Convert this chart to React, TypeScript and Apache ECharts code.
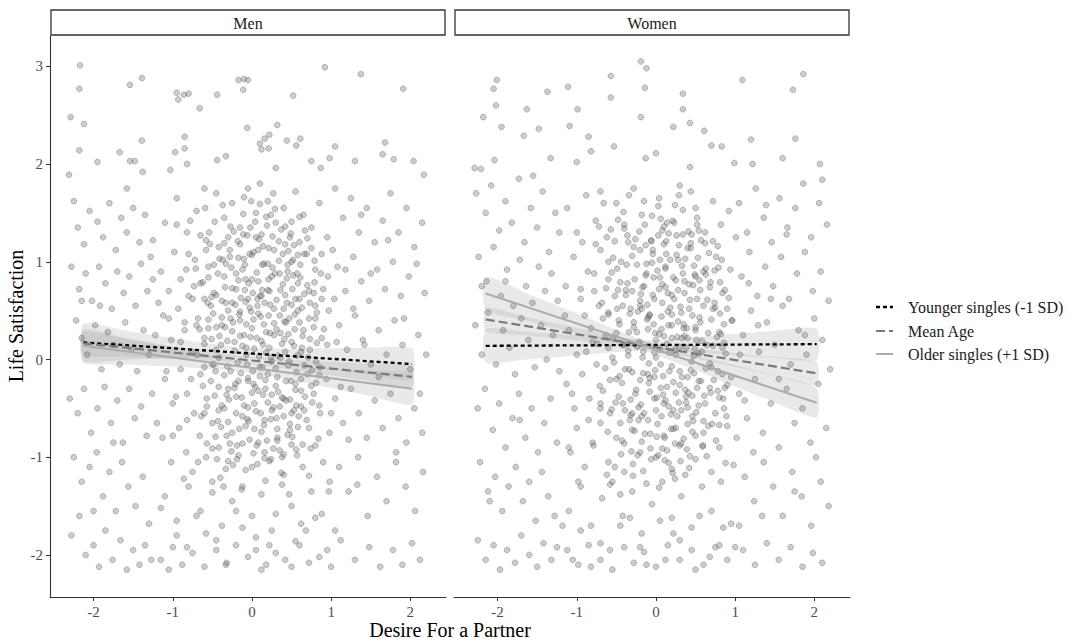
import React, { useEffect, useRef } from "react";
import * as echarts from "echarts";

const FONT = '"Liberation Serif", "Times New Roman", serif';

const panelTitles = ["Men", "Women"];
const groupNames = ["Younger singles (-1 SD)", "Mean Age", "Older singles (+1 SD)"];
const xTickValues = [-2, -1, 0, 1, 2];
const yTickValues = [-2, -1, 0, 1, 2, 3];
const xTitle = "Desire For a Partner";
const yTitle = "Life Satisfaction";

// regression lines: [x0, y0, x1, y1] for Younger, Mean, Older
const menLines = [
  [-2.13, 0.175, 2.02, -0.047],
  [-2.13, 0.165, 2.02, -0.177],
  [-2.13, 0.14, 2.02, -0.3],
];
const womenLines = [
  [-2.15, 0.14, 2.03, 0.157],
  [-2.15, 0.41, 2.03, -0.142],
  [-2.15, 0.676, 2.03, -0.443],
];
// confidence band half widths at fractions along each line
const bandFrac = [0, 0.125, 0.25, 0.375, 0.5, 0.625, 0.75, 0.875, 1];
const menBandHalf = [
  [0.19, 0.15, 0.11, 0.075, 0.05, 0.075, 0.105, 0.14, 0.16],
  [0.12, 0.095, 0.07, 0.05, 0.035, 0.05, 0.07, 0.09, 0.11],
  [0.17, 0.135, 0.1, 0.07, 0.05, 0.07, 0.1, 0.13, 0.16],
];
const womenBandHalf = [
  [0.17, 0.14, 0.11, 0.075, 0.05, 0.075, 0.11, 0.14, 0.16],
  [0.12, 0.095, 0.07, 0.05, 0.035, 0.05, 0.07, 0.095, 0.12],
  [0.17, 0.14, 0.11, 0.075, 0.05, 0.075, 0.11, 0.14, 0.15],
];

const menPoints = [
  [-2.17,3.01],[0.92,2.99],[1.375,2.92],[-1.39,2.88],[1.91,2.77],[-2.18,2.77],[-1.54,2.81],[-0.17,2.86],[-0.1,2.87],[-0.05,2.86],
  [-0.11,2.76],[-0.93,2.66],[-0.8,2.72],[-0.86,2.71],[-0.95,2.73],[-0.44,2.71],[-0.66,2.57],[0.52,2.7],[-2.29,2.48],[-2.12,2.41],
  [-0.06,2.37],[0.32,2.4],[-1.39,2.24],[-0.85,2.28],[-0.85,2.16],[0.1,2.21],[0.16,2.26],[0.22,2.3],[0.12,2.15],[0.21,2.16],
  [0.44,2.24],[0.56,2.19],[0.61,2.26],[1.05,2.18],[0.98,2.06],[1.68,2.22],[1.65,2.1],[2.04,2.03],[1.3,2.03],[0.75,2.03],
  [0.87,1.96],[0.3,1.96],[-2.18,2.14],[-1.67,2.12],[-1.54,2.03],[-1.48,2.03],[-1.95,2.02],[-2.31,1.89],[-1.03,1.94],[-1.38,1.92],
  [-0.82,2.0],[-0.97,2.12],[-0.44,2.04],[-0.33,2.08],[2.17,1.89],[1.79,2.05],
  [-2.25,1.62],[-2.2,1.35],[-2.12,1.18],[-2.05,1.52],[-1.95,1.41],[-1.88,1.25],[-1.8,1.6],[-1.72,1.12],[-1.65,1.45],[-1.58,1.3],
  [-1.5,1.55],[-1.42,1.2],[-1.35,1.48],[-1.28,1.05],[-2.28,0.95],[-2.18,0.72],[-2.1,0.88],[-2.02,0.6],[-1.93,0.95],[-1.85,0.78],
  [-1.77,0.52],[-1.7,0.9],[-1.62,0.68],[-1.55,0.85],[-1.47,0.55],[-1.4,0.98],[-1.32,0.7],[-1.25,0.82],[-2.22,0.4],[-2.15,0.22],
  [-2.08,0.05],[-1.98,0.35],[-1.9,-0.1],[-1.82,0.28],[-1.75,0.15],[-1.67,-0.05],[-1.6,0.38],[-1.52,0.1],[-1.45,-0.12],[-1.37,0.3],
  [-1.3,0.05],[-1.22,0.25],[-2.3,-0.4],[-2.2,-0.55],[-2.12,-0.3],[-2.03,-0.75],[-1.95,-0.5],[-1.86,-0.28],[-1.78,-0.65],[-1.7,-0.42],
  [-1.63,-0.85],[-1.55,-0.3],[-1.48,-0.6],[-1.4,-0.48],[-1.33,-0.78],[-1.26,-0.35],[-2.25,-1.0],[-2.15,-1.25],[-2.05,-1.1],[-1.96,-0.95],
  [-1.88,-1.4],[-1.8,-1.15],[-1.72,-1.55],[-1.64,-1.05],[-1.56,-1.3],[-1.47,-1.5],[-1.38,-1.2],[-1.3,-1.68],[-2.28,-1.8],[-2.18,-1.6],
  [-2.1,-2.0],[-2.0,-1.9],[-1.93,-2.12],[-1.85,-1.75],[-1.76,-2.05],[-1.66,-1.85],[-1.58,-2.15],[-1.5,-1.95],[-1.42,-2.1],[-1.35,-1.9],
  [-1.27,-2.05],
  [-1.1,1.4],[-0.95,1.65],[-0.82,1.3],[-0.7,1.52],[-0.58,1.22],[-0.45,1.7],[-0.35,1.45],[-0.25,1.6],[-0.15,1.35],[-0.05,1.75],
  [0.05,1.5],[0.12,1.28],[0.2,1.62],[0.3,1.4],[0.4,1.55],[0.48,1.25],[0.55,1.72],[0.65,1.48],[0.75,1.35],[0.85,1.6],
  [0.95,1.25],[-0.3,1.25],[0.1,1.8],[-0.6,1.75],[0.6,1.2],
  [-1.15,0.9],[-1.05,0.7],[-0.98,1.1],[-0.9,0.82],[-0.8,0.65],[-0.72,1.02],[-0.65,0.78],[-0.55,0.95],[-0.48,0.68],[-0.42,1.15],
  [-0.35,0.85],[-0.28,1.05],[-0.2,0.72],[-0.12,0.92],[-0.05,0.62],[0.02,1.1],[0.08,0.8],[0.15,0.98],[0.22,0.7],[0.28,1.12],
  [0.35,0.88],[0.42,0.66],[0.5,1.0],[0.58,0.78],[0.66,1.08],[0.72,0.7],[0.8,0.92],[0.88,0.62],[0.96,0.85],[-0.6,0.62],
  [-0.15,1.18],[0.12,0.65],[0.45,0.9],[-0.38,0.6],[0.25,0.85],[-0.08,0.82],[0.6,0.62],
  [-1.12,0.45],[-1.02,0.2],[-0.93,0.52],[-0.85,0.3],[-0.76,0.08],[-0.68,0.42],[-0.6,0.22],[-0.52,0.55],[-0.45,0.1],[-0.38,0.35],
  [-0.3,0.5],[-0.22,0.18],[-0.15,0.4],[-0.07,0.05],[0.0,0.32],[0.07,0.55],[0.14,0.15],[0.21,0.45],[0.28,0.25],[0.36,0.02],
  [0.43,0.38],[0.5,0.18],[0.58,0.5],[0.65,0.3],[0.73,0.1],[0.8,0.42],[0.88,0.22],[0.97,0.5],[-0.25,0.58],[0.18,0.28],
  [-0.55,0.32],[0.4,0.52],[-0.1,0.25],[0.62,0.08],
  [-1.1,-0.2],[-1.0,-0.45],[-0.9,-0.1],[-0.82,-0.35],[-0.73,-0.55],[-0.65,-0.15],[-0.57,-0.4],[-0.5,-0.05],[-0.42,-0.28],[-0.35,-0.5],
  [-0.27,-0.12],[-0.2,-0.38],[-0.12,-0.58],[-0.05,-0.22],[0.03,-0.45],[0.1,-0.08],[0.17,-0.3],[0.25,-0.52],[0.32,-0.18],[0.4,-0.4],
  [0.47,-0.02],[0.55,-0.25],[0.62,-0.48],[0.7,-0.15],[0.78,-0.35],[0.86,-0.55],[0.94,-0.2],[-0.3,-0.3],[0.2,-0.15],[-0.6,-0.55],
  [0.5,-0.55],[0.08,-0.32],
  [-1.13,-0.8],[-1.02,-1.05],[-0.92,-0.7],[-0.83,-0.95],[-0.75,-1.15],[-0.66,-0.78],[-0.58,-1.0],[-0.5,-0.65],[-0.42,-0.9],[-0.33,-1.12],
  [-0.25,-0.75],[-0.17,-0.98],[-0.08,-0.68],[0.0,-1.1],[0.08,-0.85],[0.16,-0.62],[0.24,-1.02],[0.32,-0.8],[0.4,-1.18],[0.48,-0.72],
  [0.56,-0.92],[0.64,-1.1],[0.72,-0.7],[0.8,-0.88],[0.9,-1.05],[0.98,-0.75],
  [-1.1,-1.4],[-0.95,-1.65],[-0.8,-1.3],[-0.65,-1.55],[-0.5,-1.25],[-0.38,-1.7],[-0.25,-1.45],[-0.12,-1.3],[0.0,-1.6],[0.12,-1.38],
  [0.25,-1.75],[0.38,-1.28],[0.5,-1.5],[0.62,-1.68],[0.75,-1.35],[0.88,-1.58],[0.98,-1.25],
  [-1.15,-2.05],[-1.0,-1.92],[-0.88,-2.1],[-0.75,-1.98],[-0.6,-2.12],[-0.45,-1.95],[-0.32,-2.08],[-0.2,-1.9],[-0.05,-2.02],[0.05,-1.95],
  [0.18,-2.1],[0.3,-1.98],[0.42,-2.05],[0.6,-1.9],[0.72,-2.08],[0.95,-1.95],
  [1.05,1.75],[1.15,1.45],[1.25,1.65],[1.35,1.3],[1.45,1.55],[1.55,1.2],[1.65,1.42],[1.75,1.7],[1.85,1.3],[1.95,1.55],
  [2.05,1.15],[2.15,1.4],[1.08,0.95],[1.18,0.7],[1.28,1.05],[1.38,0.8],[1.48,0.6],[1.58,0.92],[1.68,0.72],[1.78,1.0],
  [1.88,0.65],[1.98,0.85],[2.08,0.98],[2.18,0.68],[1.1,0.35],[1.2,0.1],[1.3,0.45],[1.4,0.2],[1.5,-0.05],[1.6,0.3],
  [1.7,0.05],[1.8,0.4],[1.9,0.15],[2.0,-0.1],[2.1,0.25],[2.2,0.05],[1.05,-0.4],[1.15,-0.65],[1.25,-0.3],[1.35,-0.55],
  [1.45,-0.8],[1.55,-0.42],[1.65,-0.7],[1.75,-0.35],[1.85,-0.6],[1.95,-0.85],[2.05,-0.5],[2.15,-0.75],[1.1,-1.1],[1.22,-1.35],
  [1.34,-1.0],[1.46,-1.6],[1.58,-1.2],[1.7,-1.45],[1.82,-1.05],[1.94,-1.3],[2.06,-1.55],[2.16,-1.15],[1.12,-1.85],[1.3,-2.05],
  [1.48,-1.92],[1.62,-2.12],[1.78,-1.95],[1.9,-2.1],[2.02,-1.88],[2.12,-2.05],
];

const menCorePoints = [
  [-0.78,1.42],[-0.71,0.93],[-0.66,0.31],[-0.62,-0.27],[-0.57,-0.86],[-0.53,1.18],[-0.49,0.47],[-0.46,-0.12],[-0.43,-0.63],[-0.4,-1.21],
  [-0.37,1.58],[-0.34,0.74],[-0.31,0.19],[-0.29,-0.41],[-0.26,-0.94],[-0.23,1.31],[-0.21,0.56],[-0.18,-0.03],[-0.16,-0.71],[-0.13,-1.33],
  [-0.11,1.49],[-0.09,0.97],[-0.07,0.36],[-0.05,-0.19],[-0.03,-0.82],[-0.01,1.62],[0.01,0.68],[0.03,0.11],[0.05,-0.53],[0.07,-1.07],
  [0.09,1.23],[0.11,0.44],[0.13,-0.08],[0.15,-0.67],[0.17,-1.24],[0.19,1.37],[0.21,0.82],[0.23,0.27],[0.25,-0.36],[0.27,-0.91],
  [0.29,1.54],[0.31,0.61],[0.33,0.04],[0.35,-0.48],[0.37,-1.16],[0.39,1.08],[0.41,0.39],[0.43,-0.22],[0.45,-0.77],[0.47,-1.38],
  [0.49,1.29],[0.51,0.72],[0.53,0.14],[0.55,-0.31],[0.57,-0.98],[0.6,1.46],[0.63,0.53],[0.66,-0.06],[0.69,-0.62],[0.72,-1.19],
  [0.75,1.14],[0.78,0.33],[0.81,-0.24],[0.84,-0.81],[0.87,0.88],[-0.75,0.62],[-0.69,0.05],[-0.64,-0.58],[-0.59,1.55],[-0.55,0.84],
  [-0.51,0.21],[-0.47,-0.37],[-0.44,-1.02],[-0.41,1.03],[-0.38,0.43],[-0.35,-0.16],[-0.32,-0.78],[-0.28,1.12],[-0.25,0.29],[-0.22,-0.29],
  [-0.19,-0.88],[-0.17,1.04],[-0.14,0.63],[-0.12,0.14],[-0.1,-0.47],[-0.08,-1.13],[-0.06,1.27],[-0.04,0.78],[-0.02,0.23],[0.0,-0.34],
  [0.02,-0.96],[0.04,1.41],[0.06,0.89],[0.08,0.47],[0.1,-0.17],[0.12,-0.74],[0.14,1.16],[0.16,0.58],[0.18,0.07],[0.2,-0.44],
  [0.22,-1.04],[0.24,1.48],[0.26,0.94],[0.28,0.37],[0.3,-0.27],[0.32,-0.83],[0.34,1.21],[0.36,0.71],[0.38,0.16],[0.4,-0.58],
  [0.42,1.36],[0.44,0.83],[0.46,0.26],[0.48,-0.41],[0.5,-0.87],[0.52,1.02],[0.54,0.46],[0.56,-0.13],[0.58,-0.69],[0.61,0.97],
  [0.64,0.24],[0.67,-0.38],[0.7,1.24],[0.73,0.58],[0.76,-0.11],[0.79,0.79],[0.82,0.17],[0.85,-0.47],[0.88,1.08],[0.91,0.31],
  [-0.85,0.38],[-0.82,-0.62],[-0.8,1.08],[-0.77,-0.2],[-0.73,0.75],[-0.68,-1.05],[-0.65,1.27],[-0.6,-0.08],[-0.56,0.58],[-0.5,-1.36],
  [-0.48,0.97],[-0.45,0.33],[-0.42,-0.52],[-0.39,0.15],[-0.36,-1.3],[-0.33,0.98],[-0.3,-0.64],[-0.27,0.42],[-0.24,-1.08],[-0.2,0.88],
  [-0.17,-0.22],[-0.15,0.49],[-0.1,1.66],[-0.06,-0.61],[-0.03,0.53],[0.0,1.07],[0.02,-0.25],[0.06,0.22],[0.1,1.59],[0.13,0.71],
  [0.16,-0.95],[0.2,0.98],[0.24,0.02],[0.27,1.7],[0.31,-0.6],[0.35,0.45],[0.38,-1.0],[0.42,0.08],[0.46,1.11],[0.5,0.56],
  [0.53,-0.52],[0.57,0.88],[0.62,-0.2],[0.66,0.67],[0.71,0.02],[0.74,-0.91],[0.8,0.55],[0.86,-0.08],[0.9,0.72],[-0.7,0.35],
  [-1.25,1.22],[-1.18,0.58],[-1.08,-0.12],[-1.0,-0.78],[-0.95,1.38],[-0.9,0.18],[-0.86,-1.22],[-0.83,0.92],[-0.96,-0.38],[-1.05,0.42],
  [-1.2,-0.65],[-1.15,-1.52],[1.02,1.12],[1.07,0.18],[1.12,-0.28],[1.18,0.92],[1.22,-0.82],[1.28,0.52],[1.33,-1.28],[1.38,1.48],
  [0.95,0.15],[1.0,-0.55],[1.04,0.62],[0.97,-1.35],[1.42,0.15],[1.5,0.88],[1.6,-0.18],[1.72,1.22],[1.82,-0.95],[1.92,0.42],
  [2.12,-0.35],[-1.92,0.55],[-1.75,-0.85],[-1.58,1.75],[-2.0,-1.55],[-2.15,0.6],
];

const menCorePoints2 = [
  [-0.58,1.12],[-0.55,0.41],[-0.52,-0.22],[-0.5,-0.91],[-0.47,1.41],[-0.45,0.66],[-0.42,0.02],[-0.39,-0.69],[-0.37,1.02],[-0.34,0.33],
  [-0.32,-0.36],[-0.3,-1.04],[-0.27,1.36],[-0.25,0.73],[-0.22,0.09],[-0.2,-0.55],[-0.18,1.21],[-0.16,0.46],[-0.14,-0.14],[-0.12,-0.86],
  [-0.1,1.03],[-0.08,0.59],[-0.06,-0.05],[-0.04,-0.63],[-0.02,1.35],[0.0,0.82],[0.02,0.41],[0.04,-0.28],[0.06,-0.88],[0.08,1.12],
  [0.1,0.65],[0.12,0.19],[0.14,-0.36],[0.16,-1.01],[0.18,1.46],[0.2,0.71],[0.22,0.12],[0.24,-0.61],[0.26,1.26],[0.28,0.52],
  [0.3,-0.09],[0.32,-0.71],[0.34,1.01],[0.36,0.27],[0.38,-0.39],[0.4,-0.97],[0.42,1.18],[0.44,0.58],[0.46,-0.06],[0.48,-0.66],
  [0.5,1.41],[0.52,0.86],[0.54,0.31],[0.56,-0.47],[0.58,1.07],[0.6,0.38],[0.62,-0.32],[0.64,-0.87],[0.67,1.32],[0.7,0.76],
  [0.73,0.21],[0.76,-0.44],[0.79,1.01],[0.82,0.48],[0.85,-0.16],[-0.62,0.79],[-0.6,0.16],[-0.57,-0.48],[-0.54,1.3],[-0.51,0.64],
  [-0.48,-0.05],[-0.46,-0.79],[-0.43,0.88],[-0.41,0.24],[-0.38,-0.47],[-0.35,1.19],[-0.33,0.58],[-0.31,-0.07],[-0.28,-0.86],[-0.26,0.94],
  [-0.24,0.38],[-0.21,-0.25],[-0.19,-1.02],[-0.17,0.81],[-0.15,0.24],[-0.13,-0.39],[-0.11,1.28],[-0.09,0.71],[-0.07,0.12],[-0.05,-0.49],
  [-0.03,1.08],[-0.01,0.49],[0.01,-0.12],[0.03,-0.71],[0.05,1.25],[0.07,0.62],[0.09,0.03],[0.11,-0.55],[0.13,0.97],[0.15,0.36],
  [0.17,-0.21],[0.19,-0.83],[0.21,1.14],[0.23,0.56],[0.25,-0.02],[0.27,-0.49],[0.29,0.88],[0.31,0.31],[0.33,-0.33],[0.35,-0.93],
  [0.37,1.33],[0.39,0.77],[0.41,0.21],[0.43,-0.42],[0.45,0.97],[0.47,0.42],[0.49,-0.22],[0.51,-0.79],[0.53,1.17],[0.55,0.62],
  [0.57,0.04],[0.59,-0.58],[0.61,0.84],[0.63,0.12],[0.66,-0.52],[0.69,1.08],[0.72,0.42],[0.75,-0.27],[0.78,0.68],[0.81,-0.02],
  [-0.95,-1.8],[-0.7,-1.6],[-0.45,-1.85],[-0.2,-1.55],[0.05,-1.82],[0.3,-1.58],[0.55,-1.86],[0.8,-1.62],[1.05,-1.75],[-0.82,-1.92],
  [-0.33,-2.1],[0.12,-2.15],[0.5,-2.12],[0.85,-2.02],[-1.05,-2.15],[-0.58,-1.78],[0.22,-1.9],[0.68,-1.75],[-0.12,-1.72],[1.0,-2.12],
];

const womenPoints = [
  [-0.19,3.05],[-0.12,2.98],[-0.57,2.9],[1.86,2.92],[1.09,2.86],[-2.01,2.86],[-2.05,2.77],[-1.37,2.74],[-1.11,2.79],[-0.57,2.68],
  [-0.14,2.78],[0.34,2.72],[0.34,2.56],[1.73,2.76],[-2.02,2.6],[-2.18,2.48],[-1.63,2.56],[-0.99,2.56],[-0.19,2.48],[0.43,2.42],
  [0.22,2.38],[0.61,2.34],[-1.95,2.38],[-1.48,2.36],[-1.67,2.29],[-1.09,2.39],[-0.85,2.28],[1.2,2.25],[1.76,2.26],[0.7,2.19],
  [0.83,2.18],[-0.82,2.13],[0.0,2.11],[-0.13,2.06],[-0.53,2.18],[1.6,2.06],[-1.33,2.06],[-1.0,2.02],[-2.04,2.04],[-2.29,1.96],
  [-2.21,1.95],[1.22,2.0],[0.99,2.01],[2.1,1.84],[2.07,2.0],[0.43,1.97],
  [-2.27,1.7],[-2.15,1.5],[-2.08,1.78],[-1.98,1.32],[-1.9,1.62],[-1.82,1.4],[-1.73,1.85],[-1.66,1.2],[-1.58,1.55],[-1.5,1.35],
  [-1.43,1.72],[-1.35,1.1],[-1.27,1.5],[-2.24,1.05],[-2.14,0.8],[-2.05,1.15],[-1.96,0.65],[-1.88,0.92],[-1.8,0.55],[-1.72,1.02],
  [-1.64,0.75],[-1.56,0.58],[-1.48,0.95],[-1.4,0.7],[-1.32,0.88],[-1.24,0.6],[-2.28,0.35],[-2.2,0.05],[-2.12,0.48],[-2.02,-0.05],
  [-1.93,0.3],[-1.85,0.12],[-1.78,-0.15],[-1.7,0.42],[-1.61,0.2],[-1.53,-0.08],[-1.45,0.35],[-1.38,0.0],[-1.3,0.25],[-1.22,-0.12],
  [-2.25,-0.5],[-2.16,-0.3],[-2.06,-0.72],[-1.98,-0.45],[-1.9,-0.9],[-1.81,-0.6],[-1.73,-0.35],[-1.65,-0.8],[-1.57,-0.5],[-1.49,-0.95],
  [-1.41,-0.65],[-1.33,-0.4],[-1.25,-0.85],[-2.22,-1.05],[-2.12,-1.35],[-2.03,-1.2],[-1.94,-1.55],[-1.86,-1.3],[-1.77,-1.1],[-1.68,-1.45],
  [-1.6,-1.25],[-1.52,-1.65],[-1.44,-1.15],[-1.36,-1.4],[-1.28,-1.6],[-2.25,-1.85],[-2.15,-2.05],[-2.05,-1.9],[-1.97,-2.15],[-1.88,-1.95],
  [-1.78,-2.08],[-1.7,-1.8],[-1.6,-2.0],[-1.5,-2.12],[-1.42,-1.88],[-1.32,-2.05],[-1.25,-1.92],
  [-1.12,1.55],[-1.0,1.3],[-0.88,1.68],[-0.76,1.42],[-0.62,1.25],[-0.5,1.6],[-0.4,1.38],[-0.28,1.75],[-0.18,1.48],[-0.06,1.22],
  [0.04,1.65],[0.14,1.4],[0.24,1.58],[0.34,1.28],[0.44,1.72],[0.52,1.45],[0.62,1.3],[0.72,1.62],[0.82,1.38],[0.92,1.52],
  [-0.35,1.2],[0.08,1.32],[0.3,1.78],[-0.7,1.72],
  [-1.14,0.75],[-1.04,1.05],[-0.95,0.62],[-0.86,0.9],[-0.78,0.7],[-0.7,1.12],[-0.6,0.82],[-0.52,0.65],[-0.44,1.0],[-0.36,0.78],
  [-0.28,1.15],[-0.2,0.6],[-0.12,0.88],[-0.04,1.08],[0.04,0.72],[0.12,0.95],[0.2,0.66],[0.28,1.02],[0.36,0.8],[0.44,1.14],
  [0.52,0.62],[0.6,0.9],[0.68,0.74],[0.76,1.05],[0.84,0.68],[0.94,0.92],[-0.3,0.7],[0.1,1.18],[0.5,0.85],[-0.6,1.0],
  [0.22,0.84],[-0.15,0.75],
  [-1.1,0.3],[-1.0,0.05],[-0.9,0.45],[-0.8,0.18],[-0.72,0.55],[-0.63,0.25],[-0.55,0.02],[-0.47,0.4],[-0.4,0.15],[-0.32,0.52],
  [-0.24,0.28],[-0.16,0.08],[-0.08,0.45],[0.0,0.2],[0.08,0.58],[0.16,0.35],[0.24,0.1],[0.32,0.48],[0.4,0.22],[0.48,0.04],
  [0.56,0.38],[0.64,0.15],[0.72,0.52],[0.8,0.28],[0.88,0.06],[0.96,0.4],[-0.6,0.48],[0.2,0.22],[-0.2,0.55],[0.5,0.3],
  [0.05,0.1],[0.35,0.32],
  [-1.13,-0.25],[-1.03,-0.5],[-0.93,-0.15],[-0.84,-0.4],[-0.75,-0.05],[-0.67,-0.32],[-0.58,-0.55],[-0.5,-0.2],[-0.42,-0.45],[-0.34,-0.1],
  [-0.26,-0.35],[-0.18,-0.58],[-0.1,-0.15],[-0.02,-0.4],[0.06,-0.05],[0.14,-0.28],[0.22,-0.52],[0.3,-0.12],[0.38,-0.38],[0.46,-0.58],
  [0.54,-0.22],[0.62,-0.45],[0.7,-0.08],[0.78,-0.32],[0.86,-0.5],[0.95,-0.18],[-0.3,-0.55],[0.1,-0.45],[0.4,-0.18],[-0.7,-0.5],
  [-1.1,-0.9],[-1.0,-0.7],[-0.9,-1.1],[-0.8,-0.85],[-0.7,-0.65],[-0.6,-1.05],[-0.5,-0.8],[-0.4,-1.15],[-0.3,-0.72],[-0.2,-0.95],
  [-0.1,-0.62],[0.0,-1.0],[0.1,-0.78],[0.2,-1.12],[0.3,-0.88],[0.4,-0.66],[0.5,-1.02],[0.6,-0.75],[0.7,-1.15],[0.8,-0.9],
  [0.9,-0.68],[0.98,-1.08],[-0.45,-0.65],[0.25,-0.7],
  [-1.1,-1.55],[-0.95,-1.3],[-0.82,-1.7],[-0.68,-1.42],[-0.55,-1.25],[-0.42,-1.6],[-0.3,-1.35],[-0.18,-1.78],[-0.05,-1.48],[0.08,-1.25],
  [0.2,-1.62],[0.32,-1.4],[0.45,-1.72],[0.58,-1.3],[0.7,-1.55],[0.82,-1.25],[0.95,-1.68],
  [-1.12,-1.95],[-0.98,-2.1],[-0.85,-1.9],[-0.7,-2.05],[-0.55,-2.15],[-0.4,-1.92],[-0.28,-2.08],[-0.15,-1.97],[0.0,-2.12],[0.15,-1.9],
  [0.3,-2.05],[0.45,-1.95],[0.6,-2.1],[0.75,-1.92],[0.9,-2.05],
  [1.05,1.6],[1.15,1.3],[1.26,1.75],[1.36,1.45],[1.46,1.2],[1.56,1.65],[1.66,1.35],[1.76,1.55],[1.86,1.8],[1.96,1.25],
  [2.06,1.6],[2.16,1.38],[1.08,0.85],[1.18,1.1],[1.28,0.65],[1.38,0.95],[1.48,0.75],[1.58,1.05],[1.68,0.62],[1.78,0.88],
  [1.88,1.1],[1.98,0.7],[2.08,0.9],[2.18,0.6],[1.1,0.25],[1.2,0.5],[1.3,0.08],[1.4,0.38],[1.5,0.15],[1.6,0.55],
  [1.7,-0.05],[1.8,0.3],[1.9,0.05],[2.0,0.42],[2.1,0.2],[2.2,-0.1],[1.05,-0.35],[1.15,-0.6],[1.25,-0.2],[1.35,-0.75],
  [1.45,-0.45],[1.55,-0.9],[1.65,-0.3],[1.75,-0.65],[1.85,-0.5],[1.95,-0.85],[2.05,-0.25],[2.15,-0.7],[1.12,-1.2],[1.24,-1.45],
  [1.36,-1.05],[1.48,-1.3],[1.6,-1.6],[1.72,-1.15],[1.84,-1.4],[1.96,-1.7],[2.08,-1.25],[2.18,-1.5],[1.1,-1.95],[1.25,-2.1],
  [1.4,-1.88],[1.55,-2.05],[1.7,-1.92],[1.85,-2.12],[1.98,-1.98],[2.1,-2.08],
];

const womenCorePoints = [
  [-0.72,1.36],[-0.68,0.58],[-0.64,-0.09],[-0.61,-0.74],[-0.58,-1.28],[-0.54,1.04],[-0.5,0.27],[-0.47,-0.38],[-0.44,-0.97],[-0.41,1.51],
  [-0.38,0.66],[-0.35,0.04],[-0.32,-0.57],[-0.29,-1.19],[-0.26,1.23],[-0.23,0.49],[-0.2,-0.21],[-0.18,-0.84],[-0.15,1.62],[-0.13,0.86],
  [-0.1,0.31],[-0.08,-0.33],[-0.06,-1.02],[-0.04,1.12],[-0.02,0.62],[0.0,0.02],[0.02,-0.66],[0.04,-1.31],[0.06,1.44],[0.08,0.77],
  [0.1,0.24],[0.12,-0.42],[0.14,-0.93],[0.16,1.29],[0.18,0.53],[0.2,-0.07],[0.22,-0.71],[0.24,-1.22],[0.26,1.07],[0.28,0.39],
  [0.3,-0.26],[0.32,-0.86],[0.34,1.53],[0.36,0.68],[0.38,0.12],[0.4,-0.49],[0.42,-1.11],[0.44,1.19],[0.46,0.45],[0.48,-0.14],
  [0.5,-0.78],[0.52,1.38],[0.55,0.81],[0.58,0.19],[0.61,-0.37],[0.64,-0.99],[0.67,1.09],[0.7,0.41],[0.73,-0.21],[0.76,-0.83],
  [0.79,0.94],[0.82,0.26],[0.85,-0.4],[0.88,-1.06],[0.92,0.63],[-0.78,0.88],[-0.74,0.16],[-0.7,-0.45],[-0.66,1.6],[-0.63,0.73],
  [-0.6,0.12],[-0.56,-0.51],[-0.52,-1.1],[-0.49,0.93],[-0.46,0.36],[-0.43,-0.24],[-0.4,-0.86],[-0.36,1.27],[-0.33,0.47],[-0.3,-0.13],
  [-0.27,-0.73],[-0.24,0.97],[-0.21,0.18],[-0.19,-0.46],[-0.16,-1.14],[-0.14,1.38],[-0.11,0.56],[-0.09,-0.04],[-0.07,-0.76],[-0.05,1.47],
  [-0.03,0.84],[-0.01,0.27],[0.01,-0.39],[0.03,-0.98],[0.05,1.02],[0.07,0.44],[0.09,-0.17],[0.11,-0.8],[0.13,1.21],[0.15,0.68],
  [0.17,0.07],[0.19,-0.56],[0.21,-1.16],[0.23,1.4],[0.25,0.81],[0.27,0.23],[0.29,-0.44],[0.31,-1.04],[0.33,0.96],[0.35,0.36],
  [0.37,-0.31],[0.39,-0.92],[0.41,1.31],[0.43,0.61],[0.45,-0.02],[0.47,-0.63],[0.49,0.87],[0.51,0.2],[0.54,-0.47],[0.57,1.22],
  [0.6,0.55],[0.63,-0.09],[0.66,-0.68],[0.69,0.79],[0.72,0.14],[0.75,-0.55],[0.78,1.16],[0.81,0.47],[0.84,-0.15],[0.87,0.71],
  [-0.82,0.32],[-0.79,-0.88],[-0.76,1.18],[-0.71,-0.27],[-0.67,0.42],[-0.62,-1.18],[-0.57,1.33],[-0.53,-0.03],[-0.48,0.71],[-0.45,-1.38],
  [-0.42,0.55],[-0.39,-0.1],[-0.34,1.68],[-0.31,-0.94],[-0.28,0.33],[-0.22,-0.62],[-0.17,0.74],[-0.12,-1.27],[-0.08,0.46],[-0.02,-0.18],
  [0.03,1.57],[0.07,-0.58],[0.12,0.93],[0.16,-1.06],[0.2,0.35],[0.25,-0.34],[0.29,1.68],[0.33,0.22],[0.37,-1.18],[0.42,0.77],
  [0.46,-0.37],[0.5,1.55],[0.54,0.06],[0.59,-0.88],[0.63,0.93],[0.68,-0.29],[0.74,0.58],[0.8,-0.67],[0.86,0.17],[0.9,-0.26],
  [-1.22,1.3],[-1.15,0.45],[-1.06,-0.35],[-0.98,-1.25],[-0.93,1.2],[-0.88,0.08],[-0.85,-0.62],[-0.95,0.72],[-1.08,-0.95],[-1.18,-1.7],
  [1.01,1.25],[1.06,0.05],[1.12,-0.42],[1.17,0.78],[1.23,-0.95],[1.29,0.35],[1.34,-1.6],[1.39,1.58],[0.96,0.4],[1.02,-0.8],
  [1.45,0.62],[1.55,-0.2],[1.65,1.28],[1.75,-1.35],[1.88,0.25],[2.02,-1.0],[-1.9,0.8],[-1.72,-0.62],[-1.55,1.88],[-2.1,-1.45],
  [-2.2,0.75],
];

const womenCorePoints2 = [
  [-0.52,1.21],[-0.49,0.52],[-0.46,-0.17],[-0.43,-0.83],[-0.4,1.34],[-0.38,0.71],[-0.35,0.09],[-0.33,-0.62],[-0.3,1.06],[-0.28,0.38],
  [-0.25,-0.31],[-0.23,-0.98],[-0.21,1.31],[-0.19,0.67],[-0.17,0.02],[-0.15,-0.55],[-0.13,1.17],[-0.11,0.41],[-0.09,-0.24],[-0.07,-0.91],
  [-0.05,0.99],[-0.03,0.36],[-0.01,-0.11],[0.01,-0.79],[0.03,1.27],[0.05,0.84],[0.07,0.31],[0.09,-0.36],[0.11,-1.03],[0.13,1.08],
  [0.15,0.49],[0.17,-0.12],[0.19,-0.71],[0.21,1.42],[0.23,0.62],[0.25,0.05],[0.27,-0.58],[0.29,1.17],[0.31,0.54],[0.33,-0.18],
  [0.35,-0.81],[0.37,1.03],[0.39,0.32],[0.41,-0.34],[0.43,-0.99],[0.45,1.28],[0.47,0.76],[0.49,0.11],[0.51,-0.54],[0.53,1.04],
  [0.55,0.43],[0.57,-0.22],[0.59,-0.89],[0.62,1.19],[0.65,0.61],[0.68,-0.04],[0.71,-0.66],[0.74,0.91],[0.77,0.23],[0.8,-0.39],
  [0.83,1.02],[0.86,0.36],[0.89,-0.58],[-0.56,0.89],[-0.54,0.22],[-0.51,-0.44],[-0.48,1.43],[-0.45,0.79],[-0.42,0.15],[-0.39,-0.52],
  [-0.37,0.97],[-0.34,0.28],[-0.32,-0.41],[-0.29,-1.07],[-0.27,0.82],[-0.24,0.13],[-0.22,-0.49],[-0.2,1.12],[-0.18,0.52],[-0.16,-0.14],
  [-0.14,-0.76],[-0.12,0.98],[-0.1,0.43],[-0.08,-0.19],[-0.06,1.21],[-0.04,0.66],[-0.02,0.07],[0.0,-0.52],[0.02,0.91],[0.04,0.26],
  [0.06,-0.29],[0.08,-0.91],[0.1,1.36],[0.12,0.74],[0.14,0.16],[0.16,-0.48],[0.18,1.02],[0.2,0.46],[0.22,-0.23],[0.24,-0.86],
  [0.26,1.27],[0.28,0.71],[0.3,0.13],[0.32,-0.52],[0.34,0.88],[0.36,0.24],[0.38,-0.44],[0.4,1.14],[0.42,0.52],[0.44,-0.11],
  [0.46,-0.74],[0.48,0.96],[0.5,0.33],[0.52,-0.29],[0.54,1.32],[0.56,0.71],[0.58,0.08],[0.6,-0.63],[0.63,0.87],[0.66,0.27],
  [0.69,-0.34],[0.72,1.21],[0.75,0.53],[0.78,-0.12],[0.81,0.79],[0.84,0.12],[0.87,-0.29],[0.9,0.52],[-0.6,0.46],[-0.58,-0.21],
  [-0.95,-1.75],[-0.7,-1.88],[-0.45,-1.7],[-0.2,-1.92],[0.05,-1.65],[0.3,-1.85],[0.55,-1.6],[0.8,-1.9],[1.05,-1.7],[-0.82,-2.12],
  [-0.33,-1.62],[0.12,-2.05],[0.5,-2.15],[0.85,-1.72],[-1.05,-2.05],[-0.58,-1.95],[0.22,-1.78],[0.68,-2.02],[-0.12,-2.1],[1.0,-1.92],
];

const lineColors = ["#000000", "#7a7a7a", "#ababab"];
const lineDashes: any[] = [[4, 3], [9, 4], "solid"];
const lineWidths = [2.3, 2.2, 2.0];

const X_MIN = -2.55, X_MAX = 2.45, Y_MIN = -2.43, Y_MAX = 3.31;

export default function App() {
  const ref = useRef<HTMLDivElement>(null);
  useEffect(() => {
    if (!ref.current) return;
    const chart = echarts.init(ref.current, null, { renderer: "svg" });

    const grids = [
      { left: 50, top: 36, width: 396, height: 561 },
      { left: 454, top: 36, width: 396, height: 561 },
    ];
    const xAxes = grids.map((_, i) => ({
      type: "value",
      gridIndex: i,
      min: X_MIN,
      max: X_MAX,
      splitLine: { show: false },
      axisLine: { show: true, onZero: false, lineStyle: { color: "#333", width: 1.1 } },
      axisTick: { show: true, length: 4, customValues: xTickValues, lineStyle: { color: "#333" } },
      axisLabel: { customValues: xTickValues, color: "#4d4d4d", fontFamily: FONT, fontSize: 15, margin: 7 },
    }));
    const yAxes = grids.map((_, i) => ({
      type: "value",
      gridIndex: i,
      min: Y_MIN,
      max: Y_MAX,
      splitLine: { show: false },
      axisLine: { show: i === 0, onZero: false, lineStyle: { color: "#333", width: 1.1 } },
      axisTick: { show: i === 0, length: 4, customValues: yTickValues, lineStyle: { color: "#333" } },
      axisLabel: { show: i === 0, customValues: yTickValues, color: "#4d4d4d", fontFamily: FONT, fontSize: 15, margin: 7 },
    }));

    const panelsData = [
      { points: menPoints.concat(menCorePoints, menCorePoints2), lines: menLines, half: menBandHalf },
      { points: womenPoints.concat(womenCorePoints, womenCorePoints2), lines: womenLines, half: womenBandHalf },
    ];

    const series: any[] = [];
    panelsData.forEach((p, i) => {
      series.push({
        type: "scatter",
        xAxisIndex: i,
        yAxisIndex: i,
        data: p.points,
        symbolSize: 5.8,
        silent: true,
        itemStyle: { color: "rgba(100,100,100,0.4)", borderColor: "rgba(55,55,55,0.5)", borderWidth: 0.7 },
      });
    });
    panelsData.forEach((p, i) => {
      series.push({
        type: "custom",
        xAxisIndex: i,
        yAxisIndex: i,
        silent: true,
        data: [[0, 0]],
        renderItem: (_params: any, api: any) => {
          const children = p.lines.map((ln, k) => {
            const up: number[][] = [];
            const lo: number[][] = [];
            bandFrac.forEach((f, j) => {
              const x = ln[0] + (ln[2] - ln[0]) * f;
              const y = ln[1] + (ln[3] - ln[1]) * f;
              up.push(api.coord([x, y + p.half[k][j]]));
              lo.push(api.coord([x, y - p.half[k][j]]));
            });
            return {
              type: "polygon",
              shape: { points: up.concat(lo.reverse()), smooth: 0.2 },
              style: { fill: "rgba(170,170,170,0.26)" },
            };
          });
          return { type: "group", children };
        },
      });
    });
    panelsData.forEach((p, i) => {
      p.lines.forEach((ln, k) => {
        series.push({
          type: "line",
          name: groupNames[k],
          xAxisIndex: i,
          yAxisIndex: i,
          data: [[ln[0], ln[1]], [ln[2], ln[3]]],
          symbol: "none",
          silent: true,
          lineStyle: { color: lineColors[k], width: lineWidths[k], type: lineDashes[k] },
          z: 3,
        });
      });
    });

    const graphic: any[] = [];
    const strips = [
      { x: 51, w: 394 },
      { x: 455, w: 394 },
    ];
    strips.forEach((s, i) => {
      graphic.push({
        type: "rect",
        shape: { x: s.x, y: 10, width: s.w, height: 25 },
        style: { fill: "#fff", stroke: "#333", lineWidth: 1.3 },
      });
      graphic.push({
        type: "text",
        x: s.x + s.w / 2,
        y: 23,
        style: { text: panelTitles[i], font: `16px ${FONT}`, fill: "#1a1a1a", textAlign: "center", textVerticalAlign: "middle" },
      });
    });
    graphic.push({
      type: "text",
      x: 450,
      y: 630,
      style: { text: xTitle, font: `20px ${FONT}`, fill: "#000", textAlign: "center", textVerticalAlign: "middle" },
    });
    graphic.push({
      type: "text",
      x: 16,
      y: 316,
      rotation: Math.PI / 2,
      style: { text: yTitle, font: `20px ${FONT}`, fill: "#000", textAlign: "center", textVerticalAlign: "middle" },
    });
    const legendY = [307, 331, 354];
    groupNames.forEach((name, k) => {
      graphic.push({
        type: "line",
        shape: { x1: 876, y1: legendY[k], x2: 893, y2: legendY[k] },
        style: {
          stroke: lineColors[k],
          lineWidth: lineWidths[k],
          lineDash: k === 2 ? null : lineDashes[k],
        },
      });
      graphic.push({
        type: "text",
        x: 908,
        y: legendY[k],
        style: { text: name, font: `16px ${FONT}`, fill: "#1a1a1a", textAlign: "left", textVerticalAlign: "middle" },
      });
    });

    chart.setOption({
      animation: false,
      grid: grids,
      xAxis: xAxes,
      yAxis: yAxes,
      series,
      graphic,
    });
    return () => chart.dispose();
  }, []);
  return (
    <div
      ref={ref}
      style={{ position: "absolute", left: 0, top: 0, width: 1076, height: 641, background: "#fff" }}
    />
  );
}
